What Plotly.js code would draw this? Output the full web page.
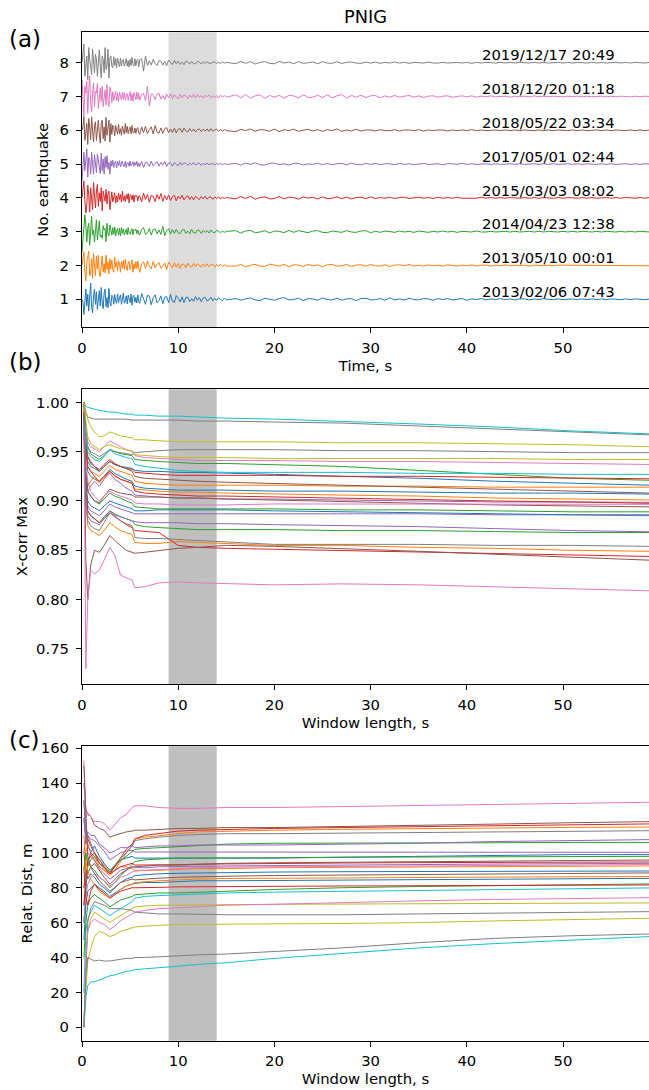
<!DOCTYPE html>
<html><head><meta charset="utf-8">
<script src="https://cdn.plot.ly/plotly-3.0.1.min.js"></script>
<style>body{margin:0;background:#fff}#chart{width:649px;height:1090px}</style>
</head><body><div id="chart"></div>
<script>
// ---------------- data ----------------
const tab10 = ['#1f77b4','#ff7f0e','#2ca02c','#d62728','#9467bd','#8c564b','#e377c2','#7f7f7f','#bcbd22','#17becf'];
const eventNumbers = [1,2,3,4,5,6,7,8];
const eventLabels = ['2013/02/06 07:43','2013/05/10 00:01','2014/04/23 12:38','2015/03/03 08:02','2017/05/01 02:44','2018/05/22 03:34','2018/12/20 01:18','2019/12/17 20:49'];
const shadedWindow = [9, 14];

// waveforms (normalised amplitude)
// start: every 0.1 s from 0 s; mid: every 0.2 s from 6 s; tail: spread evenly over 16-59 s
const START_DT = 0.1, MID_T0 = 6, MID_DT = 0.2, TAIL_T0 = 16, T_END = 59;
const wave1Start = [0,-.1,-.45,.05,.3,-.2,.15,-.35,.2,.48,-.25,-.4,.1,.3,-.15,.22,-.3,.05,.25,-.2,.35,-.1,-.28,.18,.3,-.22,.05,-.25,.32,-.1,-.2,.12,.08,-.15,.14,-.05,-.12,.16,-.1,.05,.13,-.15,.04,.18,-.12,-.06,.1,-.14,.12,.02,-.1,.15,-.18,.08,.12,-.09,.05,-.11,.13,-.07];
const wave1Mid = [-.12,.17,.02,-.15,.12,.09,-.16,.05,.13,-.11,-.04,.1,-.13,.06,.08,-.1,.14,-.06,-.09,.11,.03,-.08,.07,-.1,.05,.06,-.07,.02,-.06,.08,-.03,.05,-.07,.04,.06,-.05,-.02,.06,-.05,.03,-.04,.05,-.01,-.04,.03,-.02];
const wave1Tail = [.02,-.03,.01,.04,-.02,-.04,.03,.01,-.03,.02,.05,-.02,-.01,.03,-.04,.02,.01,-.03,.04,-.01,-.02,.03,-.03,.01,.02,-.04,.02,.03,-.02,-.01,.02,-.03,.04,-.02,.01,-.02,.03,-.01,-.02,.02,.01,-.03,.02,-.01,.02,-.02,.01,.02,-.03,.01,-.01,.02,-.02,.01,-.01,.02,-.01,.01,-.02,.01,.01,-.02,.01,-.01,.02,-.01,-.01,.01,-.01,.01,.01,-.01,.01,-.01,.01,-.01,.01,-.01,.01,0,-.01,.01,-.01,.01,0,-.01,.01];
const wave2Start = [0,.15,.4,-.2,-.45,.1,.3,.42,-.3,-.25,.2,-.38,.35,.05,-.3,.28,-.1,.3,-.22,-.33,.15,.28,-.2,.05,-.22,.3,-.12,.1,-.25,.2,-.1,.16,-.12,-.2,.24,-.05,.1,-.16,.14,.06,-.2,.12,-.08,.15,-.12,.18,-.04,-.15,.1,.12,-.12,.08,.16,-.2,.05,-.1,.11,-.09,.13,-.06];
const wave2Mid = [-.2,.05,.11,-.09,.13,-.02,-.1,.12,-.07,.04,.09,-.08,-.03,.07,-.12,.1,.02,-.07,.08,-.05,.06,-.09,.04,.03,-.06,.07,-.02,-.05,.06,-.04,.05,.01,-.05,.04,-.03,.05,-.04,.02,.03,-.05,.03,-.02,.04,-.03,.02,-.02];
const wave2Tail = [-.02,.03,-.04,.01,.03,-.02,-.03,.04,.01,-.02,.03,-.04,.02,.01,-.03,.03,-.01,.02,-.04,.02,.03,-.02,-.01,.03,-.03,.01,.02,-.02,.03,-.01,-.02,.02,-.03,.01,.02,-.01,.03,-.02,.01,-.02,.02,-.01,.01,-.02,.02,.01,-.02,.01,-.01,.02,-.02,.01,.01,-.02,.01,-.01,.02,-.01,.01,-.01,.01,-.02,.01,0,-.01,.01,-.01,.01,.01,-.01,.01,-.01,0,.01,-.01,.01,-.01,.01,-.01,0,.01,-.01,.01,-.01,.01,0,-.01];
const wave3Start = [-.6,-.2,.15,.5,.2,-.3,.1,.25,-.4,.15,.45,-.1,.05,-.3,.2,.35,-.25,.1,.32,-.15,-.1,-.2,.18,.05,.1,-.3,.25,-.05,-.12,.2,.08,-.1,.12,-.08,.14,-.12,.04,.09,-.1,.1,-.13,.12,-.05,.08,-.1,.02,.07,-.09,.12,-.06,-.08,.04,.09,-.1,.06,.03,.08,-.06,.05,-.07];
const wave3Mid = [-.1,.07,.12,-.08,-.04,.09,-.1,.06,.08,-.06,.05,-.08,.16,-.12,.03,.09,-.07,.06,-.05,.07,-.04,-.06,.05,.07,-.05,.02,-.06,.07,-.03,-.04,.05,.03,-.05,.04,-.02,.03,-.04,.05,-.02,-.03,.04,.01,-.03,.02,-.02,.01];
const wave3Tail = [.03,-.04,.02,.04,-.03,-.01,.03,-.04,.02,.01,-.03,.04,-.02,.03,-.01,-.03,.02,.03,-.02,-.03,.02,.01,-.02,.03,-.01,-.02,.02,.03,-.03,.01,-.02,.02,.01,-.02,.02,-.01,.01,-.02,.02,.01,-.02,.01,-.01,.02,-.01,.01,-.02,.01,.01,-.01,.02,-.01,-.01,.01,-.01,.01,.01,-.01,.01,-.01,0,.01,-.01,.01,-.01,.01,0,-.01,.01,-.01,.01,-.01,.01,0,-.01,.01,-.01,.01,0,-.01,.01,-.01,.01,-.01,.01,0,-.01];
const wave4Start = [0,.2,.5,-.1,-.45,-.2,.38,.1,-.42,.3,.05,-.35,.45,-.15,-.3,.2,.4,-.25,.15,-.1,.3,-.38,.2,.05,-.1,.25,-.18,.12,.2,-.35,-.08,.18,-.12,.1,.15,-.16,.06,-.12,.14,-.05,.1,-.13,.2,-.08,.05,-.11,.1,-.04,.13,-.15,.1,.07,-.06,.09,-.12,.08,.04,.07,-.09,.05];
const wave4Mid = [.06,-.12,.14,-.05,.1,-.13,.08,.05,-.11,.1,-.04,.13,-.1,.07,-.06,.09,-.08,.04,.07,-.09,.05,-.03,.08,-.06,.02,.06,-.05,.04,-.06,.05,.01,-.05,.04,-.03,.05,-.04,.02,.03,-.04,.03,-.02,.03,-.03,.02,-.02,.01];
const wave4Tail = [-.03,.04,-.02,.05,-.04,.01,.03,-.03,-.02,.04,-.03,.02,.01,-.04,.03,-.01,.02,-.03,.03,-.02,-.01,.03,-.02,.02,-.03,.01,.02,-.02,.03,-.02,.01,-.01,.02,-.02,.01,.02,-.02,-.01,.02,-.01,.01,-.02,.02,-.01,.01,-.01,.02,-.01,-.01,.01,-.01,.02,-.01,.01,-.01,.01,-.01,.01,0,-.01,.01,-.01,.01,-.01,.01,0,-.01,.01,-.01,.01,0,-.01,.01,-.01,.01,-.01,0,.01,-.01,.01,-.01,.01,0,-.01,.01,-.01,.01];
const wave5Start = [-.5,-.1,.35,-.2,.1,.45,-.38,.2,.1,-.3,.35,-.15,-.3,.28,-.05,-.25,.3,.1,-.1,-.28,.32,-.2,.15,-.3,.22,-.1,.25,-.15,.05,-.3,.1,-.06,.12,-.1,.05,.09,-.11,.07,-.04,.1,-.08,.03,.09,-.06,-.07,.08,-.1,.05,.04,-.07,.09,-.05,.02,.07,-.06,.05,-.03,.08,-.07,.03];
const wave5Mid = [-.07,.08,-.1,.05,.04,-.07,.09,-.05,.02,.07,-.06,.05,-.03,.08,-.07,.03,.04,-.06,.05,-.02,-.04,.05,-.03,.04,.02,-.04,.03,-.02,.05,-.03,.01,.03,-.04,.02,-.02,.03,-.02,.01,.02,-.03,.02,-.01,.02,-.02,.01,-.01];
const wave5Tail = [.02,-.03,.03,-.01,.04,-.02,-.03,.02,.03,-.02,.01,-.03,.02,.02,-.03,.01,-.01,.03,-.02,.02,-.02,.01,.02,-.02,.03,-.01,-.02,.02,-.01,.02,-.02,.01,.01,-.02,.02,-.01,.01,-.02,.01,.02,-.01,-.01,.01,-.02,.01,.01,-.01,.02,-.01,.01,-.01,0,.01,-.01,.01,-.01,.01,.01,-.01,.01,-.01,0,.01,-.01,.01,-.01,.01,-.01,0,.01,-.01,.01,-.01,.01,0,-.01,.01,-.01,.01,-.01,0,.01,-.01,.01,-.01,.01,0];
const wave6Start = [0,.1,.4,-.3,-.05,.2,-.42,.35,.1,-.28,.4,-.1,-.35,.15,.25,-.3,.05,.3,-.1,-.38,.2,.3,-.25,.1,-.32,.38,-.15,.05,.3,-.35,.2,-.12,.15,.08,-.16,.14,-.06,-.12,.17,-.1,.05,-.15,.12,.03,-.12,.2,-.07,.12,-.1,.02,.1,-.11,.14,-.06,-.08,.07,-.09,.05,.08,-.07];
const wave6Mid = [-.12,.1,-.07,.12,-.1,.02,.1,-.11,.14,-.06,-.08,.07,-.09,.05,.08,-.07,.04,-.06,.06,-.08,.03,.05,-.06,.07,-.02,-.05,.05,-.03,.04,-.05,.02,.04,-.04,.03,-.02,.04,-.03,.05,-.03,.01,.03,-.02,.02,-.03,.02,-.01];
const wave6Tail = [-.04,.03,-.01,.04,-.03,.02,.01,-.03,.04,-.04,.02,-.01,.03,-.03,.01,.03,-.02,.02,-.03,.02,-.01,.04,-.03,.01,-.02,.03,-.02,.01,.01,-.02,.02,-.01,-.01,.02,-.02,.01,.01,-.01,.02,-.02,.01,-.01,.01,.01,-.02,.01,-.01,.01,-.01,.02,-.01,.01,-.01,0,.01,-.01,.01,-.01,.01,-.01,.01,0,-.01,.01,-.01,.01,-.01,.01,0,-.01,.01,-.01,.01,-.01,0,.01,-.01,.01,-.01,.01,0,-.01,.01,-.01,.01,-.01,.01];
const wave7Start = [.5,-.3,-.6,.3,.1,.45,-.5,.2,.6,-.2,-.45,.1,.4,-.3,.15,.1,.38,-.35,-.1,.25,-.15,.3,-.3,.05,.2,-.25,.35,-.1,-.3,.28,.15,-.18,.14,-.12,.06,.16,-.13,.1,-.15,.12,.02,-.1,.13,-.08,.12,-.11,.05,.09,-.12,.07,.15,-.12,.08,-.14,.12,.02,-.1,.13,-.08,.1];
const wave7Mid = [-.11,.05,.09,-.12,.3,-.28,.08,.05,-.09,.07,.1,-.08,.03,-.09,.07,-.04,.08,-.06,.05,-.02,-.07,.06,-.04,.05,.02,-.06,.04,-.03,.06,-.04,.05,-.02,.03,-.05,.04,-.01,.05,-.04,.02,-.03,.03,-.05,.04,-.02,.03,-.02];
const wave7Tail = [.05,-.04,.06,-.05,.02,.05,-.06,.03,-.02,.04,-.05,.03,.02,-.04,.05,-.03,-.02,.04,-.03,.05,-.04,.02,.06,-.05,.03,-.02,.04,-.03,.02,.03,-.04,.02,-.02,.03,-.02,.01,.03,-.02,.02,-.03,.01,.02,-.02,.01,.02,-.02,-.01,.02,-.01,.02,-.02,.01,-.01,.02,-.01,.01,.01,-.02,.01,-.01,.01,-.01,.02,-.01,.01,-.01,.01,0,-.01,.01,-.01,.01,-.01,.01,-.01,0,.01,-.01,.01,-.01,.01,0,-.01,.01,-.01,.01,0];
const wave8Start = [0,.2,.55,-.4,-.1,.2,-.5,.45,.1,-.15,-.35,.4,-.05,-.3,.25,.1,-.4,.2,.38,-.1,-.45,.2,.1,-.3,.45,-.2,-.1,.4,-.45,.15,.2,-.1,-.15,.18,-.08,.12,-.16,.14,.02,-.12,.13,-.1,.05,.1,-.11,.08,.12,-.1,.06,-.13,.1,-.08,.16,-.05,-.1,.12,-.09,.07,.1,-.12];
const wave8Mid = [.08,.12,-.25,.2,-.08,.06,-.07,.1,-.03,-.08,.06,.05,-.07,.04,-.09,.08,.02,-.06,.07,-.04,.05,-.05,.02,-.06,.05,.02,-.04,.04,-.03,-.03,.04,.02,-.04,.03,-.02,.03,-.01,-.03,.02,.02,-.02,.01,-.02,.02,-.01,.01];
const wave8Tail = [-.03,.04,-.02,.03,-.04,.01,.03,-.02,-.03,.04,-.01,.02,-.03,.03,-.02,.01,.02,-.03,.03,-.01,-.02,.03,-.02,.01,.02,-.01,-.02,.02,-.01,.02,-.02,.01,-.01,.02,-.01,.01,-.02,.01,.01,-.01,.02,-.01,-.01,.01,-.01,.01,.01,-.01,.01,-.02,.01,-.01,.01,0,-.01,.01,-.01,.01,-.01,.01,0,-.01,.01,-.01,.01,-.01,0,.01,-.01,.01,-.01,.01,0,-.01,.01,-.01,.01,-.01,0,.01,-.01,.01,-.01,.01,0,-.01,.01];

// window lengths (s) at which panels (b) and (c) are read
const windowLength = [0.2,0.4,0.6,0.9,1.3,1.8,2.3,2.9,3.4,4.0,4.6,5.2,5.5,6.5,8,10,12,15,20,27,35,43,51,59];

// panel (b): cross-correlation maximum for each of the 28 event pairs
const xcorrMax = [
 [.99,.955,.94,.935,.933,.93,.935,.940,.937,.935,.934,.933,.931,.930,.930,.929,.929,.928,.927,.925,.923,.920,.918,.916],
 [.99,.95,.935,.93,.928,.925,.93,.936,.932,.93,.928,.926,.92,.918,.917,.916,.916,.916,.916,.915,.915,.914,.914,.914],
 [1.00,.97,.955,.948,.945,.942,.946,.952,.950,.948,.947,.946,.942,.941,.940,.939,.938,.938,.937,.935,.931,.927,.923,.921],
 [.99,.96,.945,.94,.935,.932,.937,.942,.938,.935,.933,.932,.929,.928,.927,.926,.926,.926,.926,.925,.925,.924,.923,.9225],
 [.98,.92,.91,.915,.92,.915,.922,.928,.922,.918,.913,.91,.906,.905,.904,.903,.903,.902,.902,.901,.900,.899,.899,.8986],
 [1.00,.96,.945,.938,.935,.93,.935,.94,.937,.935,.933,.93,.925,.923,.922,.921,.920,.919,.918,.916,.914,.912,.910,.908],
 [1.00,.975,.96,.955,.953,.95,.955,.961,.958,.955,.952,.95,.946,.944,.943,.942,.941,.941,.941,.940,.940,.939,.938,.937],
 [1.00,.99,.985,.984,.983,.983,.983,.983,.983,.983,.983,.982,.982,.982,.982,.982,.981,.981,.980,.979,.976,.973,.970,.967],
 [1.00,.99,.983,.975,.970,.965,.966,.970,.968,.966,.965,.964,.962,.962,.961,.960,.960,.960,.960,.959,.959,.958,.957,.955],
 [1.00,.996,.995,.994,.993,.992,.991,.990,.990,.989,.988,.988,.987,.987,.986,.986,.985,.984,.983,.981,.978,.975,.971,.968],
 [.99,.95,.93,.925,.922,.92,.925,.932,.928,.925,.922,.92,.915,.913,.912,.911,.911,.911,.910,.910,.909,.908,.908,.907],
 [1.00,.93,.915,.92,.925,.918,.923,.93,.925,.922,.92,.918,.912,.911,.910,.909,.909,.908,.907,.906,.905,.903,.902,.901],
 [.99,.93,.91,.905,.9,.897,.902,.908,.905,.903,.9,.898,.894,.893,.892,.892,.892,.892,.892,.891,.891,.890,.889,.889],
 [.99,.95,.935,.93,.925,.92,.925,.93,.926,.922,.92,.918,.91,.908,.907,.906,.905,.905,.904,.903,.901,.900,.899,.8976],
 [.97,.91,.895,.89,.888,.885,.89,.897,.894,.892,.89,.888,.887,.887,.887,.887,.887,.887,.887,.887,.887,.886,.886,.885],
 [.98,.93,.91,.905,.9,.898,.905,.912,.91,.908,.907,.906,.904,.904,.904,.903,.903,.902,.901,.899,.898,.896,.895,.894],
 [1.00,.94,.92,.91,.905,.9,.905,.91,.907,.905,.903,.901,.898,.897,.897,.896,.896,.896,.897,.897,.897,.897,.897,.8966],
 [1.00,.97,.955,.95,.948,.945,.948,.952,.950,.949,.948,.947,.949,.950,.951,.952,.952,.952,.952,.951,.951,.950,.949,.949],
 [1.00,.98,.965,.958,.955,.952,.955,.957,.955,.953,.952,.951,.947,.946,.945,.944,.944,.944,.943,.943,.943,.943,.942,.942],
 [1.00,.965,.95,.945,.942,.94,.945,.952,.948,.946,.944,.943,.937,.935,.933,.931,.930,.929,.929,.929,.928,.928,.927,.927],
 [.98,.92,.9,.895,.893,.89,.895,.9,.898,.896,.894,.892,.89,.89,.891,.891,.891,.891,.890,.889,.888,.887,.886,.886],
 [1.00,.9,.875,.87,.868,.865,.87,.878,.874,.87,.868,.866,.858,.857,.857,.859,.858,.857,.855,.855,.853,.852,.850,.849],
 [.98,.91,.89,.885,.882,.878,.884,.89,.887,.884,.882,.88,.876,.874,.873,.872,.871,.871,.871,.870,.870,.869,.868,.868],
 [.99,.91,.89,.885,.882,.878,.882,.888,.885,.88,.876,.873,.87,.869,.868,.855,.853,.852,.851,.850,.848,.847,.845,.8438],
 [.97,.9,.885,.88,.878,.876,.882,.89,.886,.884,.882,.88,.879,.878,.878,.878,.877,.877,.876,.875,.874,.872,.870,.8688],
 [.99,.84,.80,.835,.85,.848,.855,.865,.86,.855,.85,.848,.847,.848,.85,.852,.853,.855,.854,.852,.849,.846,.843,.840],
 [.98,.73,.80,.83,.826,.83,.84,.853,.845,.825,.822,.82,.812,.813,.817,.818,.817,.816,.815,.816,.815,.813,.811,.809],
 [.99,.9,.88,.875,.872,.87,.878,.888,.884,.88,.877,.875,.863,.862,.862,.861,.860,.858,.856,.856,.856,.855,.855,.854]
];

// panel (c): relative distance (m) for each of the 28 event pairs
const relDist = [
 [60,80,95,100,104,98,94,90,92,96,97,98,97,97,97,97,97,97,97,97.5,98,98.5,99,99],
 [90,100,105,100,98,92,90,87,90,95,100,104,108,109,110,111,112,112.5,113,113.5,114,114.3,114.6,114.8],
 [70,85,92,96,98,94,92,89,92,96,98,101,102,102.5,103,103.5,104,105,105.5,105.5,105.7,105.8,106,106],
 [100,110,108,104,100,94,91,88,92,97,102,105,108,110,111,112.5,113,113.5,114,114.5,115,115.5,116,116.6],
 [120,108,112,110,110,105,103,100,101,103,103,104,103,103.5,104,104,104.5,104.5,104.5,105,105.5,106.5,107,107.6],
 [140,125,122,121,116,114,113,109,110,111,112,112.5,113,113,113.5,114,114,114.5,114.5,115,116,116.5,117.3,117.9],
 [153,120,123,121,118,118,117,113,116,120,122,126,127,127,126,125.5,125.5,126,126,126.5,127,127.5,128.3,129],
 [130,115,110,106,100,96,93,90,93,97,100,104,107,108,109,110,110.5,111,111,111.3,111.7,112,112.4,112.7],
 [0,40,55,62,66,64,62,60,62,64,66,68,69,69.5,70,70,70.2,70.3,70.5,70.7,70.9,71,71.2,71.3],
 [20,55,62,66,70,68,66,64,66,68,70,72,74,75,75.5,76,76.5,77,77.5,78,78.5,79,79.5,79.9],
 [80,90,85,88,86,82,80,77,80,83,85,86,87,87.5,88,88.3,88.5,88.7,89,89.2,89.3,89.4,89.5,89.6],
 [110,95,100,98,95,92,90,88,90,92,92,91,90,90,90,90.5,91,91,91.5,91.7,92,92.2,92.4,92.5],
 [90,100,95,92,90,86,84,80,83,87,90,93,95,96,96.5,97,97,97,97.2,97.5,97.7,97.8,98,98],
 [70,85,95,98,100,96,92,88,90,92,93,94,93,93,93,93.2,93.5,93.7,94,94.2,94.4,94.6,94.7,94.8],
 [120,105,110,108,107,104,101,96,98,100,101,101.5,100.5,100.5,100.5,100.3,100.3,100.2,100.2,100.2,100.2,100.3,100.3,100.3],
 [100,90,88,92,94,90,86,82,85,88,90,92,92,92.5,93,93,93.5,94,94.3,94.6,95,95.3,95.6,95.9],
 [60,75,82,86,88,86,84,81,83,86,87,89,89.5,90,90.5,91,91.5,91.8,92,92.3,92.6,92.9,93.1,93.3],
 [0,30,60,68,72,71,70,68,68,68,67.5,67,66,65.5,65,65,64.8,64.5,64.5,64.5,65,65.5,66,66.3],
 [0,20,38,45,52,55,54,52,53,55,56,57,57.5,58,58.5,59,59,59.2,59.3,59.5,60,61,61.8,62.5],
 [0,17,24,26,26,27,28,29.5,30,31,32,32.5,33,33.5,34,35,36,37,39.5,42.5,45.5,48,50,52],
 [50,70,78,80,82,80,78,75,77,79,81,82,82.5,83,83,83.5,84,84,84.2,84.5,84.8,85,85.2,85.4],
 [80,95,90,85,82,78,76,74,76,79,81,82,83,83.5,84,84.5,85,85.3,85.5,85.7,86,86.1,86.3,86.4],
 [40,60,70,74,76,74,72,69,71,73,74,75,76,76.5,77,77,77.5,78,79,80,80.7,81.3,81.8,82.2],
 [90,75,70,78,82,79,77,74,76,78,79,80,80,80,80.2,80.5,80.5,80.7,80.8,81,81.2,81.3,81.5,81.6],
 [130,110,105,100,96,91,88,85,87,90,91,92,91.5,91.5,92,92,92.3,92.5,92.8,93,93.3,93.6,93.8,94],
 [150,120,98,92,88,84,81,78,80,83,84,85,84.5,85,85.5,86,86.3,86.6,87,87.3,87.7,88,88.3,88.5],
 [0,40,55,60,62,60,59,56,58,61,63,65,66,67,68,68.5,69,70,70.5,71.5,72.5,73.3,73.9,74.3],
 [0,30,40,39,38,38.5,38,38,38.5,39,39.5,39.5,40,40,40.5,41,41.5,42,43.5,45.5,48.5,51,52.5,53.5]
];

// ---------------- build ----------------
const waveStart = [wave1Start,wave2Start,wave3Start,wave4Start,wave5Start,wave6Start,wave7Start,wave8Start];
const waveMid = [wave1Mid,wave2Mid,wave3Mid,wave4Mid,wave5Mid,wave6Mid,wave7Mid,wave8Mid];
const waveTail = [wave1Tail,wave2Tail,wave3Tail,wave4Tail,wave5Tail,wave6Tail,wave7Tail,wave8Tail];
const traces = [];
eventNumbers.forEach((n, k) => {
  const x = [], y = [];
  waveStart[k].forEach((v, i) => { x.push(i * START_DT); y.push(n + v); });
  waveMid[k].forEach((v, i) => { x.push(MID_T0 + i * MID_DT); y.push(n + v); });
  const tl = waveTail[k];
  tl.forEach((v, i) => { x.push(TAIL_T0 + i * (T_END - TAIL_T0) / (tl.length - 1)); y.push(n + v); });
  traces.push({type:'scatter', mode:'lines', x, y, xaxis:'x', yaxis:'y',
    line:{color: tab10[k % 10], width:1}, hoverinfo:'skip'});
});
xcorrMax.forEach((arr, i) => traces.push({type:'scatter', mode:'lines', x: windowLength, y: arr,
  xaxis:'x2', yaxis:'y2', line:{color: tab10[i % 10], width:1}, hoverinfo:'skip'}));
relDist.forEach((arr, i) => traces.push({type:'scatter', mode:'lines', x: windowLength, y: arr,
  xaxis:'x3', yaxis:'y3', line:{color: tab10[i % 10], width:1}, hoverinfo:'skip'}));

const FS = 14.8;
const H = 1090;
const fy = px => 1 - px / H;
function xax(anchor, title) {
  return {anchor, domain:[0,1], range:[0, 58.94], showline:true, mirror:true, linecolor:'#000', linewidth:1,
    ticks:'outside', ticklen:5, tickwidth:1, tickcolor:'#000', tickvals:[0,10,20,30,40,50],
    showgrid:false, zeroline:false, tickfont:{size:FS}, ticklabelstandoff:2,
    title:{text:title, font:{size:FS}, standoff:5}};
}
function yax(anchor, dom, range, tickvals, fmt, title, standoff) {
  return {anchor, domain:dom, range, showline:true, linecolor:'#000', linewidth:1,
    ticks:'outside', ticklen:5, tickwidth:1, tickcolor:'#000', tickvals, tickformat:fmt,
    showgrid:false, zeroline:false, tickfont:{size:FS}, ticklabelstandoff:4,
    title:{text:title, font:{size:FS}, standoff}};
}
const annotations = eventLabels.map((t, k) => ({xref:'x', yref:'y', x:41.37, y:eventNumbers[k] - 0.08,
  text:t, showarrow:false, xanchor:'left', yanchor:'bottom', font:{size:FS, color:'#000'}}));
[['(a)', 38.7], ['(b)', 362], ['(c)', 740]].forEach(([t, py]) => annotations.push({xref:'paper', yref:'paper',
  x:(7 - 82) / 567, y:fy(py), text:t, showarrow:false, xanchor:'left', yanchor:'middle', font:{size:23, color:'#000'}}));

const shapes = [
  {type:'rect', xref:'x', yref:'y domain', x0:shadedWindow[0], x1:shadedWindow[1], y0:0, y1:1, fillcolor:'#dcdcdc', line:{width:0}, layer:'below'},
  {type:'rect', xref:'x2', yref:'y2 domain', x0:shadedWindow[0], x1:shadedWindow[1], y0:0, y1:1, fillcolor:'#bfbfbf', line:{width:0}, layer:'below'},
  {type:'rect', xref:'x3', yref:'y3 domain', x0:shadedWindow[0], x1:shadedWindow[1], y0:0, y1:1, fillcolor:'#bfbfbf', line:{width:0}, layer:'below'}
];

const layout = {
  width:649, height:1090, margin:{l:82, r:0, t:0, b:0}, showlegend:false,
  paper_bgcolor:'#fff', plot_bgcolor:'#fff',
  font:{family:'DejaVu Sans', size:FS, color:'#000'},
  title:{text:'PNIG', font:{size:17.8, color:'#000'}, xref:'paper', x:0.5, xanchor:'center', yref:'container', y:fy(17), yanchor:'middle'},
  xaxis: xax('y', 'Time, s'),
  yaxis: yax('x', [fy(327.3), fy(32.3)], [0.17, 8.9], [1,2,3,4,5,6,7,8], 'd', 'No. earthquake', 7),
  xaxis2: xax('y2', 'Window length, s'),
  yaxis2: yax('x2', [fy(684), fy(389.3)], [0.7145, 1.0132], [0.75,0.8,0.85,0.9,0.95,1.0], '.2f', 'X-corr Max', 4),
  xaxis3: xax('y3', 'Window length, s'),
  yaxis3: yax('x3', [fy(1040.7), fy(746.3)], [-7.7, 161.1], [0,20,40,60,80,100,120,140,160], 'd', 'Relat. Dist, m', 4),
  annotations, shapes
};
Plotly.newPlot('chart', traces, layout, {displayModeBar:false, staticPlot:true});
</script></body></html>
